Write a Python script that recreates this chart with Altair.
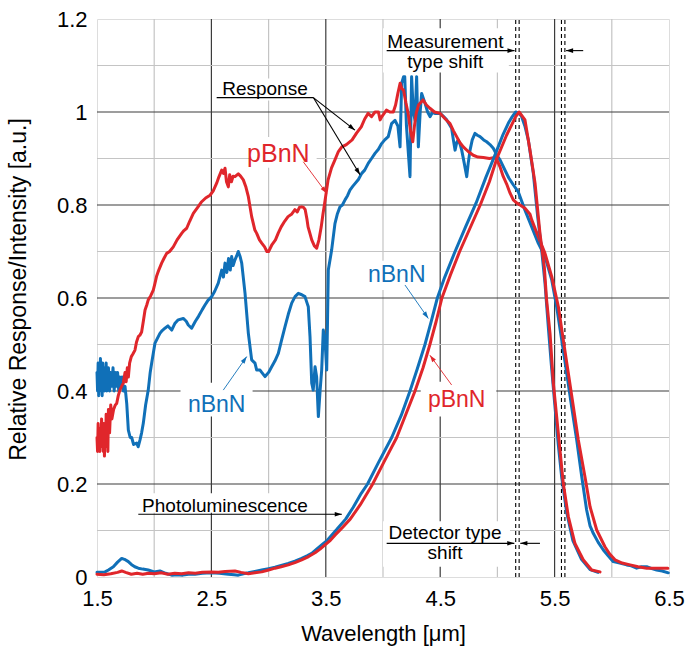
import math
import altair as alt
import pandas as pd

# ---------------- data ----------------
resp_n_x = [1.500, 1.505, 1.510, 1.515, 1.520, 1.525, 1.530, 1.535, 1.540, 1.545, 1.550, 1.555, 1.560, 1.565,
            1.570, 1.575, 1.580, 1.585, 1.590, 1.595, 1.600, 1.610, 1.620, 1.630, 1.640, 1.650, 1.660, 1.670,
            1.680, 1.690, 1.700, 1.710, 1.720, 1.730, 1.745, 1.760, 1.774, 1.790, 1.803, 1.820, 1.847, 1.860,
            1.876, 1.890, 1.905, 1.925, 1.948, 1.965, 1.978, 2.007, 2.050, 2.070, 2.094, 2.120, 2.153, 2.180,
            2.210, 2.254, 2.280, 2.298, 2.327, 2.360, 2.386, 2.420, 2.444, 2.470, 2.503, 2.530, 2.560, 2.590,
            2.605, 2.619, 2.635, 2.650, 2.665, 2.677, 2.690, 2.706, 2.720, 2.735, 2.750, 2.765, 2.794, 2.823,
            2.852, 2.881, 2.896, 2.925, 2.940, 2.969, 3.000, 3.027, 3.056, 3.085, 3.114, 3.143, 3.172, 3.202,
            3.231, 3.260, 3.290, 3.318, 3.335, 3.347, 3.362, 3.377, 3.390, 3.406, 3.420, 3.435, 3.450, 3.464,
            3.478, 3.493, 3.508, 3.515, 3.522, 3.551, 3.580, 3.600, 3.624, 3.645, 3.668, 3.690, 3.711, 3.735,
            3.755, 3.785, 3.814, 3.840, 3.872, 3.900, 3.930, 3.960, 3.988, 4.015, 4.046, 4.075, 4.105, 4.130,
            4.149, 4.163, 4.180, 4.190, 4.205, 4.236, 4.250, 4.265, 4.280, 4.294, 4.309, 4.325, 4.338, 4.367,
            4.390, 4.411, 4.435, 4.455, 4.500, 4.530, 4.557, 4.600, 4.615, 4.630, 4.645, 4.658, 4.675, 4.688,
            4.710, 4.732, 4.745, 4.761, 4.780, 4.804, 4.825, 4.848, 4.880, 4.906, 4.935, 4.964, 5.000, 5.023,
            5.060, 5.100, 5.140, 5.183, 5.241, 5.300, 5.357, 5.416, 5.475, 5.518, 5.562, 5.606, 5.649, 5.693,
            5.737, 5.780, 5.810, 5.838, 5.880, 5.926, 5.970, 6.013, 6.070, 6.130, 6.170, 6.217, 6.260, 6.305,
            6.350, 6.392, 6.440, 6.494]
resp_n_y = [0.44, 0.40, 0.46, 0.39, 0.45, 0.41, 0.47, 0.40, 0.44, 0.39, 0.46, 0.42, 0.45, 0.40,
            0.44, 0.41, 0.46, 0.40, 0.44, 0.41, 0.45, 0.40, 0.44, 0.41, 0.45, 0.40, 0.44, 0.41,
            0.44, 0.40, 0.43, 0.41, 0.43, 0.40, 0.41, 0.373, 0.316, 0.300, 0.300, 0.285, 0.288, 0.280,
            0.295, 0.310, 0.331, 0.370, 0.402, 0.440, 0.460, 0.503, 0.524, 0.530, 0.535, 0.540, 0.531, 0.545,
            0.553, 0.556, 0.550, 0.542, 0.535, 0.550, 0.560, 0.575, 0.585, 0.595, 0.603, 0.615, 0.632, 0.660,
            0.645, 0.675, 0.655, 0.685, 0.660, 0.689, 0.670, 0.682, 0.690, 0.700, 0.690, 0.675, 0.610, 0.524,
            0.467, 0.460, 0.445, 0.445, 0.440, 0.431, 0.440, 0.452, 0.465, 0.481, 0.510, 0.538, 0.565, 0.589,
            0.603, 0.610, 0.607, 0.603, 0.590, 0.581, 0.517, 0.417, 0.402, 0.452, 0.430, 0.345, 0.400, 0.445,
            0.531, 0.510, 0.445, 0.550, 0.660, 0.703, 0.760, 0.780, 0.796, 0.800, 0.811, 0.820, 0.832, 0.840,
            0.846, 0.855, 0.868, 0.875, 0.890, 0.900, 0.911, 0.920, 0.932, 0.940, 0.947, 0.975, 0.982, 0.970,
            0.925, 1.062, 1.076, 1.076, 0.970, 0.861, 1.076, 1.000, 0.982, 1.076, 0.925, 1.000, 1.040, 1.019,
            1.000, 0.990, 1.000, 0.997, 0.997, 0.990, 0.983, 0.965, 0.940, 0.918, 0.935, 0.940, 0.930, 0.918,
            0.890, 0.861, 0.890, 0.918, 0.940, 0.954, 0.950, 0.947, 0.940, 0.936, 0.930, 0.922, 0.905, 0.897,
            0.878, 0.858, 0.843, 0.828, 0.789, 0.753, 0.718, 0.689, 0.639, 0.581, 0.510, 0.438, 0.366, 0.295,
            0.216, 0.144, 0.110, 0.094, 0.075, 0.058, 0.045, 0.033, 0.030, 0.026, 0.024, 0.019, 0.022, 0.022,
            0.018, 0.015, 0.013, 0.009]

resp_p_x = [1.500, 1.505, 1.510, 1.515, 1.520, 1.525, 1.530, 1.535, 1.540, 1.545, 1.550, 1.555, 1.560, 1.565,
            1.570, 1.575, 1.580, 1.585, 1.590, 1.595, 1.600, 1.610, 1.620, 1.630, 1.645, 1.660, 1.672, 1.686,
            1.700, 1.715, 1.730, 1.745, 1.755, 1.765, 1.774, 1.785, 1.800, 1.815, 1.832, 1.845, 1.861, 1.875,
            1.890, 1.905, 1.920, 1.935, 1.948, 1.970, 1.992, 2.005, 2.020, 2.040, 2.065, 2.085, 2.109, 2.135,
            2.167, 2.200, 2.240, 2.260, 2.284, 2.310, 2.342, 2.380, 2.415, 2.450, 2.488, 2.515, 2.546, 2.565,
            2.590, 2.605, 2.619, 2.632, 2.648, 2.660, 2.675, 2.690, 2.706, 2.735, 2.755, 2.779, 2.800, 2.823,
            2.852, 2.880, 2.896, 2.920, 2.940, 2.965, 2.985, 3.000, 3.030, 3.060, 3.085, 3.110, 3.140, 3.170,
            3.200, 3.230, 3.250, 3.270, 3.290, 3.305, 3.320, 3.335, 3.345, 3.360, 3.377, 3.400, 3.420, 3.440,
            3.460, 3.475, 3.490, 3.520, 3.550, 3.580, 3.610, 3.640, 3.680, 3.730, 3.770, 3.810, 3.840, 3.870,
            3.900, 3.930, 3.960, 3.975, 3.990, 4.030, 4.060, 4.090, 4.110, 4.130, 4.150, 4.165, 4.180, 4.200,
            4.220, 4.240, 4.260, 4.275, 4.290, 4.310, 4.350, 4.380, 4.410, 4.450, 4.500, 4.545, 4.586, 4.615,
            4.644, 4.670, 4.702, 4.745, 4.789, 4.830, 4.877, 4.930, 4.979, 5.000, 5.023, 5.050, 5.081, 5.110,
            5.139, 5.170, 5.198, 5.241, 5.285, 5.300, 5.357, 5.416, 5.475, 5.533, 5.576, 5.620, 5.664, 5.707,
            5.765, 5.810, 5.868, 5.940, 5.980, 6.028, 6.090, 6.160, 6.230, 6.305, 6.400, 6.490]
resp_p_y = [0.30, 0.27, 0.33, 0.29, 0.31, 0.27, 0.32, 0.28, 0.34, 0.29, 0.32, 0.27, 0.33, 0.26,
            0.31, 0.28, 0.35, 0.29, 0.33, 0.27, 0.36, 0.31, 0.37, 0.34, 0.36, 0.37, 0.373, 0.390,
            0.402, 0.410, 0.417, 0.440, 0.420, 0.450, 0.430, 0.460, 0.474, 0.480, 0.488, 0.505, 0.517, 0.520,
            0.527, 0.550, 0.574, 0.585, 0.596, 0.605, 0.617, 0.630, 0.646, 0.660, 0.675, 0.685, 0.696, 0.700,
            0.710, 0.725, 0.739, 0.745, 0.750, 0.765, 0.782, 0.795, 0.807, 0.815, 0.821, 0.830, 0.847, 0.860,
            0.875, 0.868, 0.879, 0.850, 0.839, 0.865, 0.850, 0.862, 0.861, 0.867, 0.862, 0.854, 0.840, 0.818,
            0.775, 0.746, 0.739, 0.725, 0.718, 0.710, 0.700, 0.700, 0.715, 0.725, 0.740, 0.753, 0.765, 0.775,
            0.780, 0.790, 0.785, 0.795, 0.796, 0.795, 0.790, 0.770, 0.753, 0.740, 0.725, 0.712, 0.707, 0.725,
            0.753, 0.780, 0.804, 0.854, 0.880, 0.897, 0.915, 0.925, 0.930, 0.940, 0.955, 0.968, 0.985, 0.997,
            0.990, 1.000, 1.000, 0.983, 0.990, 1.004, 1.000, 1.000, 1.015, 1.040, 1.062, 1.050, 1.047, 1.020,
            0.997, 0.960, 0.936, 0.970, 0.997, 1.015, 1.026, 1.015, 1.008, 1.000, 0.997, 0.985, 0.975, 0.960,
            0.947, 0.935, 0.925, 0.915, 0.907, 0.903, 0.902, 0.900, 0.902, 0.895, 0.882, 0.862, 0.845, 0.826,
            0.811, 0.804, 0.800, 0.793, 0.780, 0.768, 0.732, 0.696, 0.646, 0.581, 0.510, 0.438, 0.366, 0.295,
            0.216, 0.151, 0.101, 0.065, 0.050, 0.037, 0.030, 0.026, 0.022, 0.019, 0.019, 0.019]

pl_n_x = [1.500, 1.570, 1.600, 1.643, 1.680, 1.716, 1.740, 1.774, 1.800, 1.830, 1.861, 1.900, 1.948, 2.000,
          2.050, 2.100, 2.153, 2.200, 2.250, 2.300, 2.357, 2.420, 2.500, 2.570, 2.648, 2.700, 2.735, 2.780,
          2.823, 2.880, 2.940, 3.000, 3.056, 3.110, 3.172, 3.230, 3.289, 3.340, 3.377, 3.420, 3.464, 3.510,
          3.551, 3.595, 3.675, 3.740, 3.810, 3.865, 3.960, 4.076, 4.160, 4.236, 4.300, 4.367, 4.420, 4.475,
          4.540, 4.630, 4.720, 4.815, 4.900, 4.975, 5.050, 5.100, 5.130, 5.160, 5.190, 5.212, 5.240, 5.270,
          5.314, 5.352, 5.387, 5.416, 5.445, 5.472, 5.502, 5.532, 5.562, 5.605, 5.660, 5.735, 5.810, 5.880]
pl_n_y = [0.010, 0.011, 0.015, 0.022, 0.032, 0.040, 0.038, 0.033, 0.027, 0.022, 0.019, 0.017, 0.015, 0.011,
          0.013, 0.008, 0.004, 0.005, 0.004, 0.006, 0.006, 0.008, 0.009, 0.008, 0.006, 0.005, 0.004, 0.007,
          0.009, 0.012, 0.015, 0.018, 0.021, 0.025, 0.029, 0.034, 0.040, 0.046, 0.051, 0.060, 0.069, 0.078,
          0.090, 0.102, 0.125, 0.150, 0.180, 0.200, 0.246, 0.300, 0.348, 0.400, 0.448, 0.500, 0.548, 0.600,
          0.645, 0.700, 0.752, 0.805, 0.860, 0.905, 0.952, 0.978, 0.990, 1.000, 0.997, 0.990, 0.970, 0.940,
          0.868, 0.775, 0.703, 0.632, 0.538, 0.455, 0.370, 0.285, 0.215, 0.140, 0.078, 0.038, 0.016, 0.010]

pl_p_x = [1.500, 1.560, 1.620, 1.680, 1.716, 1.750, 1.800, 1.850, 1.900, 1.950, 2.000, 2.060, 2.120, 2.180,
          2.240, 2.300, 2.360, 2.420, 2.500, 2.560, 2.620, 2.706, 2.760, 2.823, 2.880, 2.940, 3.000, 3.056,
          3.110, 3.172, 3.230, 3.289, 3.350, 3.406, 3.450, 3.493, 3.540, 3.580, 3.640, 3.715, 3.800, 3.910,
          4.010, 4.120, 4.200, 4.280, 4.350, 4.410, 4.465, 4.515, 4.590, 4.670, 4.760, 4.850, 4.930, 4.995,
          5.080, 5.130, 5.160, 5.190, 5.241, 5.285, 5.329, 5.372, 5.410, 5.430, 5.460, 5.489, 5.518, 5.547,
          5.576, 5.620, 5.678, 5.750, 5.824, 5.897]
pl_p_y = [0.006, 0.005, 0.007, 0.010, 0.013, 0.010, 0.006, 0.008, 0.006, 0.008, 0.007, 0.009, 0.006, 0.008,
          0.007, 0.009, 0.008, 0.010, 0.011, 0.010, 0.012, 0.013, 0.010, 0.007, 0.009, 0.011, 0.015, 0.019,
          0.022, 0.026, 0.031, 0.037, 0.044, 0.052, 0.060, 0.069, 0.079, 0.090, 0.105, 0.125, 0.155, 0.200,
          0.248, 0.300, 0.350, 0.400, 0.450, 0.500, 0.550, 0.600, 0.650, 0.700, 0.750, 0.800, 0.850, 0.900,
          0.950, 0.975, 0.990, 1.000, 0.983, 0.918, 0.847, 0.739, 0.667, 0.596, 0.524, 0.417, 0.345, 0.273,
          0.201, 0.130, 0.072, 0.037, 0.015, 0.011]

x_ticks = [1.5, 2.5, 3.5, 4.5, 5.5, 6.5]
y_ticks = [0, 0.2, 0.4, 0.6, 0.8, 1.0, 1.2]
x_major_grid = [2.5, 3.5, 4.5, 5.5]
x_minor_grid = [2.0, 3.0, 4.0, 5.0, 6.0]
y_major_grid = [0.2, 0.4, 0.6, 0.8, 1.0]
y_minor_grid = [0.1, 0.3, 0.5, 0.7, 0.9, 1.1]
shift_lines = [5.16, 5.19, 5.56, 5.59]

RED = "#e0262b"
BLUE = "#1070b8"
FONT = "Liberation Sans"

# --------------- encodings ---------------
xs = alt.Scale(domain=[1.5, 6.5], nice=False, zero=False)
ys = alt.Scale(domain=[0, 1.2], nice=False, zero=False)
x_axis = alt.Axis(values=x_ticks, format=".1f", grid=False, ticks=False, domain=False,
                  labelFlush=False, labelOverlap=False,
                  labelFont=FONT, labelFontSize=22, labelColor="black", labelPadding=11,
                  title="Wavelength [μm]", titleFont=FONT, titleFontSize=22, titleFontWeight="normal",
                  titleColor="black", titleY=56, titleBaseline="middle")
y_axis = alt.Axis(values=y_ticks, labelExpr="datum.value == 0 ? '0' : format(datum.value, '.1~f')",
                  grid=False, ticks=False, domain=False, labelFlush=False, labelOverlap=False,
                  labelFont=FONT, labelFontSize=22, labelColor="black", labelPadding=10,
                  title="Relative Response/Intensity [a.u.]", titleFont=FONT, titleFontSize=23,
                  titleFontWeight="normal", titleColor="black", titleX=-79, titleY=270,
                  titleBaseline="middle")
X = alt.X("x:Q", scale=xs, axis=x_axis)
Y = alt.Y("y:Q", scale=ys, axis=y_axis)


def series(xv, yv, name):
    return pd.DataFrame({"x": xv, "y": yv, "s": name})


# gridlines
vgrid = pd.DataFrame({"x": x_minor_grid + x_major_grid, "y": 0.0, "y2": 1.2,
                      "c": ["#c4c4c4"] * len(x_minor_grid) + ["#3c3c3c"] * len(x_major_grid)})
hgrid = pd.DataFrame({"y": y_minor_grid + y_major_grid, "x": 1.5, "x2": 6.5,
                      "c": ["#c4c4c4"] * len(y_minor_grid) + ["#3c3c3c"] * len(y_major_grid)})
vg = alt.Chart(vgrid).mark_rule(strokeWidth=1.2).encode(
    x=X, y=Y, y2="y2:Q", color=alt.Color("c:N", scale=None))
hg = alt.Chart(hgrid).mark_rule(strokeWidth=1.2).encode(
    x=X, x2="x2:Q", y=Y, color=alt.Color("c:N", scale=None))

# white boxes behind annotation text
boxes = pd.DataFrame({
    "x":  [4.00, 2.52, 2.84, 2.23, 3.82, 4.33, 1.87, 4.00],
    "x2": [5.10, 3.42, 3.42, 2.86, 4.42, 4.99, 3.43, 5.11],
    "y":  [1.085, 1.025, 0.880, 0.345, 0.617, 0.345, 0.138, 0.022],
    "y2": [1.180, 1.072, 0.946, 0.418, 0.680, 0.420, 0.180, 0.120],
})
bx = alt.Chart(boxes).mark_rect(color="white").encode(x=X, x2="x2:Q", y=Y, y2="y2:Q")

# dashed shift lines
dl = alt.Chart(pd.DataFrame({"x": shift_lines, "y": 0.0, "y2": 1.2})).mark_rule(
    color="black", strokeWidth=1.1, strokeDash=[4, 3]).encode(x=X, y=Y, y2="y2:Q")

# curves
curves = pd.concat([
    series(resp_n_x, resp_n_y, "a_resp_n"),
    series(resp_p_x, resp_p_y, "b_resp_p"),
    series(pl_n_x, pl_n_y, "c_pl_n"),
    series(pl_p_x, pl_p_y, "d_pl_p"),
])
cl = alt.Chart(curves).mark_line(strokeWidth=3, strokeJoin="round", strokeCap="round").encode(
    x=X, y=Y, detail="s:N",
    color=alt.Color("s:N", scale=alt.Scale(domain=["a_resp_n", "b_resp_p", "c_pl_n", "d_pl_p"],
                                           range=[BLUE, RED, BLUE, RED]), legend=None),
    order=alt.Order("x:Q"))

# annotation arrows: (x1, y1, x2, y2, colour, width, head)
arrows = [
    (4.032, 1.132, 5.150, 1.132, "black", 1.1, 1),
    (5.750, 1.132, 5.600, 1.132, "black", 1.1, 1),
    (4.032, 0.0724, 5.148, 0.0724, "black", 1.1, 1),
    (5.372, 0.0724, 5.200, 0.0724, "black", 1.1, 1),
    (1.861, 0.135, 3.640, 0.135, "black", 1.1, 1),
    (2.546, 1.031, 3.391, 1.031, "black", 1.1, 0),
    (3.391, 1.031, 3.755, 0.961, "black", 1.1, 1),
    (3.391, 1.031, 3.799, 0.865, "black", 1.1, 1),
    (3.303, 0.893, 3.508, 0.825, RED, 0.9, 1),
    (2.604, 0.402, 2.809, 0.474, BLUE, 0.9, 1),
    (4.192, 0.628, 4.396, 0.556, BLUE, 0.9, 1),
    (4.600, 0.413, 4.410, 0.477, RED, 0.9, 1),
]
adf = pd.DataFrame(arrows, columns=["x", "y", "x2", "y2", "c", "w", "h"])
al = alt.Chart(adf).mark_rule().encode(
    x=X, y=Y, x2="x2:Q", y2="y2:Q", color=alt.Color("c:N", scale=None),
    strokeWidth=alt.StrokeWidth("w:Q", scale=None))

PX_X = 572 / 5.0
PX_Y = 558 / 1.2
heads = []
for x1, y1, x2, y2, c, w, h in arrows:
    if not h:
        continue
    dx = (x2 - x1) * PX_X
    dy = -(y2 - y1) * PX_Y
    ang = math.degrees(math.atan2(dx, -dy)) % 360
    heads.append({"x": x2, "y": y2, "c": c, "ang": ang})
hdf = pd.DataFrame(heads)
hl = alt.Chart(hdf).mark_point(shape="M0,0L0.32,1L-0.32,1Z", filled=True, opacity=1, size=200,
                               strokeWidth=0).encode(
    x=X, y=Y, color=alt.Color("c:N", scale=None), angle=alt.Angle("ang:Q", scale=None))

# annotation text
labels = pd.DataFrame([
    ("Measurement", 4.545, 1.138, "black", 19),
    ("type shift", 4.545, 1.094, "black", 19),
    ("Response", 2.968, 1.037, "black", 19),
    ("Photoluminescence", 2.619, 0.1405, "black", 19),
    ("Detector type", 4.542, 0.081, "black", 19),
    ("shift", 4.542, 0.038, "black", 19),
    ("pBnN", 3.085, 0.893, RED, 25),
    ("nBnN", 2.546, 0.3556, BLUE, 23),
    ("nBnN", 4.120, 0.634, BLUE, 23),
    ("pBnN", 4.644, 0.366, RED, 23),
], columns=["t", "x", "y", "c", "fs"])
tl = alt.Chart(labels).mark_text(font=FONT, baseline="alphabetic", align="center").encode(
    x=X, y=Y, text="t:N", color=alt.Color("c:N", scale=None), size=alt.Size("fs:Q", scale=None))

chart = alt.layer(vg, hg, bx, dl, cl, al, hl, tl).properties(
    width=572, height=558,
    autosize=alt.AutoSizeParams(type="none"),
    padding={"left": 97, "top": 19, "right": 17, "bottom": 71},
).configure_view(stroke="#3a3a3a", strokeWidth=1.5).configure(background="white")

chart.save("out.html", embed_options={"renderer": "svg", "actions": False})
